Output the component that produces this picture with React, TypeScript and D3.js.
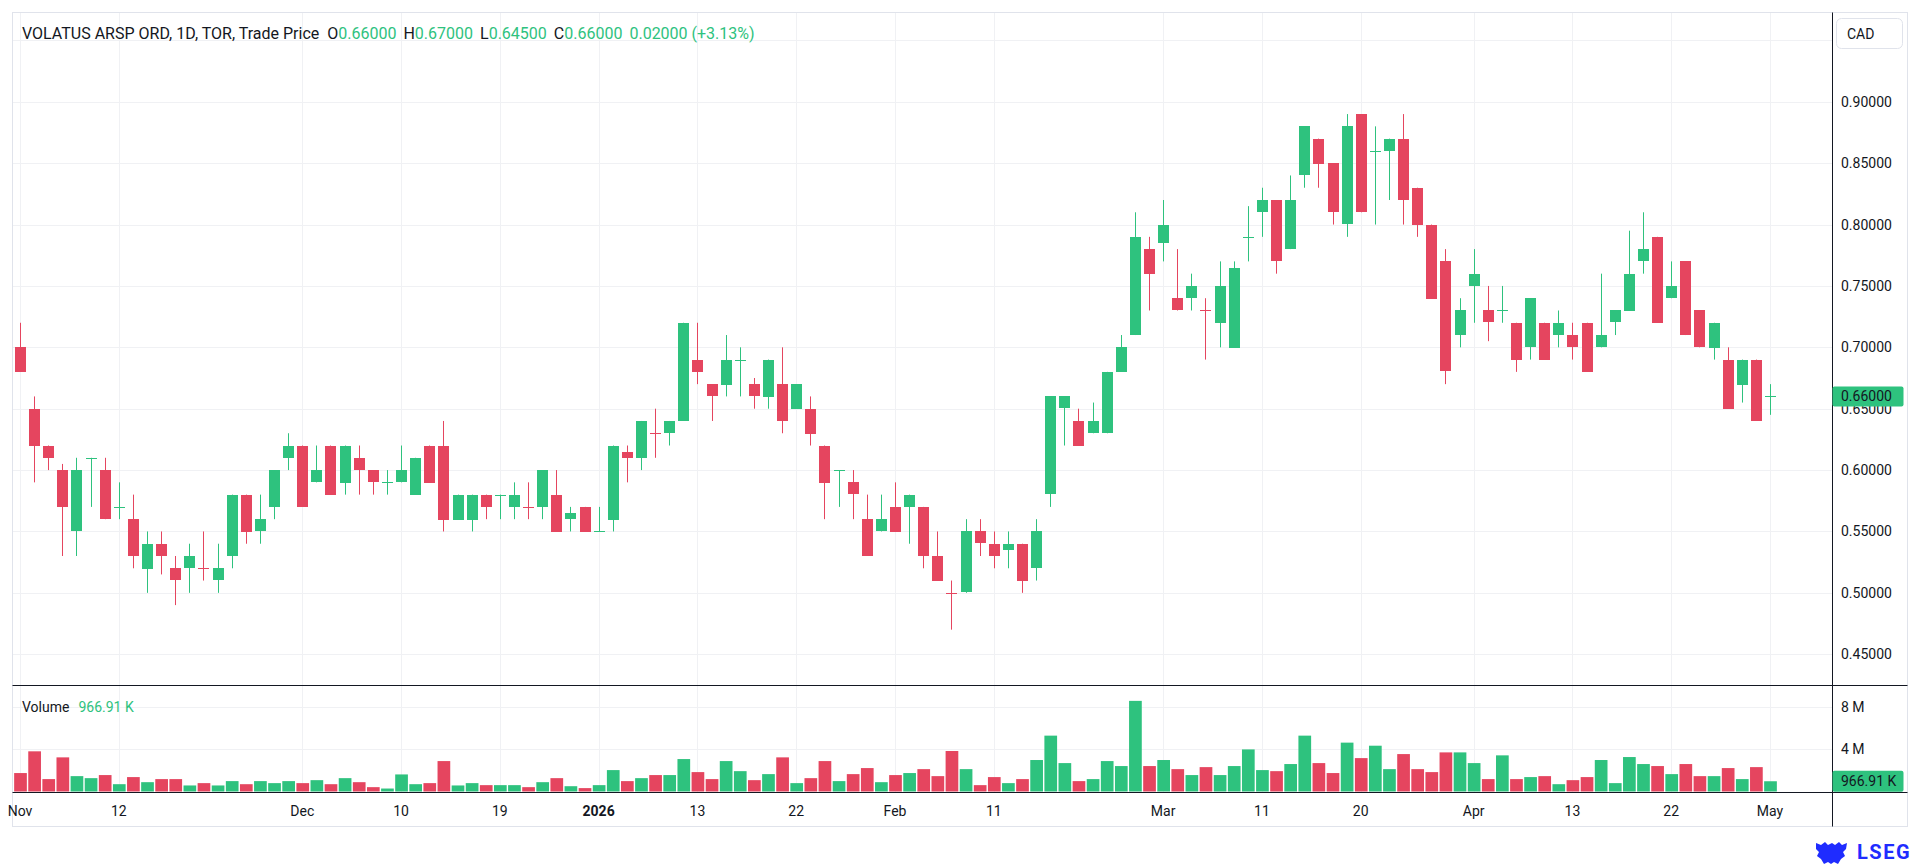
import * as d3 from 'd3'

// trading days, Nov 2025 - May 2026 (TSX calendar)
const NOV_2025 = [3, 4, 5, 6, 7, 10, 11, 12, 13, 14, 17, 18, 19, 20, 21, 24, 25, 26, 27, 28]
const DEC_2025 = [1, 2, 3, 4, 5, 8, 9, 10, 11, 12, 15, 16, 17, 18, 19, 22, 23, 24, 29, 30, 31]
const JAN_2026 = [2, 5, 6, 7, 8, 9, 12, 13, 14, 15, 16, 19, 20, 21, 22, 23, 26, 27, 28, 29, 30]
const FEB_2026 = [2, 3, 4, 5, 6, 9, 10, 11, 12, 13, 17, 18, 19, 20, 23, 24, 25, 26, 27]
const MAR_2026 = [2, 3, 4, 5, 6, 9, 10, 11, 12, 13, 16, 17, 18, 19, 20, 23, 24, 25, 26, 27, 30, 31]
const APR_2026 = [1, 2, 6, 7, 8, 9, 10, 13, 14, 15, 16, 17, 20, 21, 22, 23, 24, 27, 28, 29, 30]
const MAY_2026 = [1]

const pad = (n: number) => String(n).padStart(2, '0')
const month = (ym: string, days: number[]) => days.map(d => `${ym}-${pad(d)}`)

const dates = [
  ...month('2025-11', NOV_2025),
  ...month('2025-12', DEC_2025),
  ...month('2026-01', JAN_2026),
  ...month('2026-02', FEB_2026),
  ...month('2026-03', MAR_2026),
  ...month('2026-04', APR_2026),
  ...month('2026-05', MAY_2026),
]

const open = [
  0.70, 0.65, 0.62, 0.60, 0.55, 0.61, 0.60, 0.57, 0.56, 0.52,
  0.54, 0.52, 0.52, 0.52, 0.51, 0.53, 0.58, 0.55, 0.57, 0.61,
  0.62, 0.59, 0.62, 0.59, 0.61, 0.60, 0.59, 0.59, 0.58, 0.62,
  0.62, 0.56, 0.56, 0.58, 0.58, 0.57, 0.57, 0.57, 0.58, 0.56,
  0.57, 0.55, 0.56, 0.615, 0.61, 0.63, 0.63, 0.64, 0.69, 0.67,
  0.67, 0.69, 0.67, 0.66, 0.67, 0.65, 0.65, 0.62, 0.60, 0.59,
  0.56, 0.55, 0.57, 0.57, 0.57, 0.53, 0.50, 0.50, 0.55, 0.54,
  0.535, 0.54, 0.52, 0.58, 0.65, 0.64, 0.63, 0.63, 0.68, 0.71,
  0.78, 0.785, 0.74, 0.74, 0.73, 0.72, 0.70, 0.79, 0.81, 0.82,
  0.78, 0.84, 0.87, 0.85, 0.80, 0.89, 0.86, 0.86, 0.87, 0.83,
  0.80, 0.77, 0.71, 0.75, 0.73, 0.73, 0.72, 0.70, 0.72, 0.71,
  0.71, 0.72, 0.70, 0.72, 0.73, 0.77, 0.79, 0.74, 0.77, 0.73,
  0.70, 0.69, 0.67, 0.69, 0.66,
]
const high = [
  0.72, 0.66, 0.62, 0.605, 0.61, 0.61, 0.61, 0.59, 0.58, 0.55,
  0.55, 0.53, 0.54, 0.55, 0.54, 0.58, 0.58, 0.58, 0.60, 0.63,
  0.62, 0.62, 0.62, 0.62, 0.62, 0.60, 0.60, 0.62, 0.61, 0.62,
  0.64, 0.58, 0.58, 0.58, 0.58, 0.59, 0.59, 0.60, 0.60, 0.57,
  0.57, 0.57, 0.62, 0.62, 0.64, 0.65, 0.64, 0.72, 0.72, 0.67,
  0.71, 0.70, 0.675, 0.69, 0.70, 0.67, 0.66, 0.62, 0.60, 0.60,
  0.58, 0.58, 0.59, 0.58, 0.57, 0.55, 0.51, 0.56, 0.56, 0.55,
  0.55, 0.54, 0.56, 0.66, 0.66, 0.65, 0.655, 0.68, 0.71, 0.81,
  0.79, 0.82, 0.78, 0.76, 0.74, 0.77, 0.77, 0.815, 0.83, 0.82,
  0.84, 0.88, 0.87, 0.85, 0.89, 0.89, 0.88, 0.87, 0.89, 0.83,
  0.80, 0.78, 0.74, 0.78, 0.75, 0.75, 0.72, 0.74, 0.72, 0.73,
  0.72, 0.72, 0.76, 0.73, 0.795, 0.81, 0.79, 0.77, 0.77, 0.73,
  0.72, 0.70, 0.69, 0.69, 0.67,
]
const low = [
  0.68, 0.59, 0.60, 0.53, 0.53, 0.57, 0.56, 0.56, 0.52, 0.50,
  0.515, 0.49, 0.50, 0.51, 0.50, 0.52, 0.54, 0.54, 0.56, 0.60,
  0.57, 0.59, 0.58, 0.58, 0.58, 0.58, 0.58, 0.59, 0.58, 0.59,
  0.55, 0.56, 0.55, 0.56, 0.56, 0.56, 0.56, 0.56, 0.55, 0.55,
  0.55, 0.55, 0.55, 0.59, 0.60, 0.61, 0.62, 0.64, 0.67, 0.64,
  0.66, 0.66, 0.65, 0.65, 0.63, 0.65, 0.62, 0.56, 0.57, 0.56,
  0.53, 0.55, 0.55, 0.54, 0.52, 0.51, 0.47, 0.50, 0.53, 0.52,
  0.52, 0.50, 0.51, 0.57, 0.62, 0.62, 0.63, 0.63, 0.68, 0.71,
  0.73, 0.77, 0.73, 0.73, 0.69, 0.70, 0.70, 0.77, 0.79, 0.76,
  0.78, 0.83, 0.83, 0.80, 0.79, 0.81, 0.80, 0.82, 0.80, 0.79,
  0.74, 0.67, 0.70, 0.72, 0.705, 0.72, 0.68, 0.69, 0.69, 0.70,
  0.69, 0.68, 0.70, 0.71, 0.73, 0.76, 0.72, 0.74, 0.71, 0.70,
  0.69, 0.65, 0.655, 0.64, 0.645,
]
const close = [
  0.68, 0.62, 0.61, 0.57, 0.60, 0.61, 0.56, 0.57, 0.53, 0.54,
  0.53, 0.51, 0.53, 0.52, 0.52, 0.58, 0.55, 0.56, 0.60, 0.62,
  0.57, 0.60, 0.58, 0.62, 0.60, 0.59, 0.59, 0.60, 0.61, 0.59,
  0.56, 0.58, 0.58, 0.57, 0.58, 0.58, 0.57, 0.60, 0.55, 0.565,
  0.55, 0.55, 0.62, 0.61, 0.64, 0.63, 0.64, 0.72, 0.68, 0.66,
  0.69, 0.69, 0.66, 0.69, 0.64, 0.67, 0.63, 0.59, 0.60, 0.58,
  0.53, 0.56, 0.55, 0.58, 0.53, 0.51, 0.50, 0.55, 0.54, 0.53,
  0.54, 0.51, 0.55, 0.66, 0.66, 0.62, 0.64, 0.68, 0.70, 0.79,
  0.76, 0.80, 0.73, 0.75, 0.73, 0.75, 0.765, 0.79, 0.82, 0.77,
  0.82, 0.88, 0.85, 0.81, 0.88, 0.81, 0.86, 0.87, 0.82, 0.80,
  0.74, 0.68, 0.73, 0.76, 0.72, 0.73, 0.69, 0.74, 0.69, 0.72,
  0.70, 0.68, 0.71, 0.73, 0.76, 0.78, 0.72, 0.75, 0.71, 0.70,
  0.72, 0.65, 0.69, 0.64, 0.66,
]
// millions of shares
const volume = [
  1.74, 3.79, 1.17, 3.22, 1.45, 1.26, 1.55, 0.69, 1.36, 0.88,
  1.17, 1.17, 0.57, 0.79, 0.57, 0.98, 0.69, 0.98, 0.79, 0.98,
  0.79, 1.07, 0.69, 1.26, 0.88, 0.41, 0.28, 1.61, 0.69, 0.79,
  2.87, 0.57, 0.79, 0.60, 0.60, 0.60, 0.41, 0.88, 1.26, 0.50,
  0.32, 0.60, 2.02, 0.98, 1.26, 1.55, 1.55, 3.06, 1.83, 1.17,
  2.87, 1.92, 1.07, 1.64, 3.22, 0.79, 1.26, 2.87, 0.98, 1.64,
  2.21, 0.88, 1.55, 1.74, 2.11, 1.45, 3.82, 2.11, 0.60, 1.36,
  0.79, 1.17, 2.97, 5.27, 2.68, 0.98, 1.17, 2.87, 2.40, 8.55,
  2.40, 2.97, 2.11, 1.55, 2.30, 1.55, 2.40, 3.97, 2.02, 1.92,
  2.59, 5.27, 2.68, 1.74, 4.61, 3.15, 4.32, 2.11, 3.53, 2.11,
  1.83, 3.69, 3.69, 2.68, 1.17, 3.41, 1.17, 1.36, 1.45, 0.69,
  1.07, 1.36, 2.97, 0.79, 3.25, 2.59, 2.40, 1.64, 2.59, 1.45,
  1.45, 2.21, 1.17, 2.30, 0.96691,
]

const tickDates = [
  '2025-11-03', '2025-11-12', '2025-12-01', '2025-12-10', '2025-12-19', '2026-01-02',
  '2026-01-13', '2026-01-22', '2026-02-02', '2026-02-11', '2026-03-02', '2026-03-11',
  '2026-03-20', '2026-04-01', '2026-04-13', '2026-04-22', '2026-05-01',
]
const tickLabels = ['Nov', '12', 'Dec', '10', '19', '2026', '13', '22', 'Feb', '11', 'Mar', '11', '20', 'Apr', '13', '22', 'May']
const priceTicks = [0.45, 0.5, 0.55, 0.6, 0.65, 0.7, 0.75, 0.8, 0.85, 0.9]
const priceGrid = [...priceTicks, 0.95]
const volumeTicks = [4, 8]
const volumeTickLabels = ['4 M', '8 M']

const W = 1920
const H = 865
const LEFT = 12.5
const AXIS_X = 1832.5
const RIGHT = 1907.5
const TOP = 12.5
const PANE_SEP = 685.5
const TIME_AXIS = 792.5
const BOTTOM = 826.5

const UP = '#2ec27e'
const DOWN = '#e5455f'
const GRID = '#f0f1f4'
const BORDER = '#e0e3eb'
const INK = '#131722'
const FONT = 'Roboto, "Noto Sans", sans-serif'

const x = d3.scalePoint<string>().domain(dates).range([20, 1770])
const y = d3.scaleLinear().domain([0.45, 0.9]).range([654.2, 101.8])
const yVol = d3.scaleLinear().domain([0, 8]).range([791.5, 706.7])

const step = x.step()
const bodyW = Math.round(step * 0.76)
const volW = step * 0.9

const isUp = (i: number) => {
  if (close[i] > open[i]) return true
  if (close[i] < open[i]) return false
  return i === 0 || close[i] >= close[i - 1]
}

const fmt = d3.format('.5f')

export default function App() {
  const last = dates.length - 1
  const lastUp = isUp(last)
  const lastColor = lastUp ? UP : DOWN
  const change = close[last] - close[last - 1]
  const pct = (change / close[last - 1]) * 100

  return (
    <svg
      width={W}
      height={H}
      style={{ position: 'absolute', left: 0, top: 0, background: '#fff' }}
      fontFamily={FONT}
    >
      <defs>
        <clipPath id="price-clip">
          <rect x={LEFT} y={TOP} width={AXIS_X - LEFT} height={PANE_SEP - TOP} />
        </clipPath>
        <clipPath id="vol-clip">
          <rect x={LEFT} y={PANE_SEP} width={AXIS_X - LEFT} height={TIME_AXIS - PANE_SEP} />
        </clipPath>
      </defs>

      {/* grid */}
      <g stroke={GRID} strokeWidth={1}>
        {tickDates.map(d => {
          const gx = Math.round(x(d)!) + 0.5
          return <line key={d} x1={gx} x2={gx} y1={TOP} y2={TIME_AXIS} />
        })}
        {priceGrid.map(p => {
          const gy = Math.round(y(p)) + 0.5
          return <line key={p} x1={LEFT} x2={AXIS_X} y1={gy} y2={gy} />
        })}
        {volumeTicks.map(v => {
          const gy = Math.round(yVol(v)) + 0.5
          return <line key={v} x1={LEFT} x2={AXIS_X} y1={gy} y2={gy} />
        })}
      </g>

      {/* candles */}
      <g clipPath="url(#price-clip)">
        {dates.map((d, i) => {
          const cx = Math.round(x(d)!)
          const color = isUp(i) ? UP : DOWN
          const yTop = y(Math.max(open[i], close[i]))
          const yBot = y(Math.min(open[i], close[i]))
          const h = Math.max(1, Math.round(yBot - yTop))
          return (
            <g key={d}>
              <rect x={cx} y={y(high[i])} width={1} height={y(low[i]) - y(high[i])} fill={color} />
              <rect x={cx - (bodyW - 1) / 2} y={Math.round(yTop)} width={bodyW} height={h} fill={color} />
            </g>
          )
        })}
      </g>

      {/* volume */}
      <g clipPath="url(#vol-clip)">
        {dates.map((d, i) => (
          <rect
            key={d}
            x={x(d)! - volW / 2 + 0.5}
            y={yVol(volume[i])}
            width={volW}
            height={yVol(0) - yVol(volume[i])}
            fill={isUp(i) ? UP : DOWN}
          />
        ))}
      </g>

      {/* frame */}
      <rect x={LEFT} y={TOP} width={RIGHT - LEFT} height={BOTTOM - TOP} fill="none" stroke={BORDER} />
      <g stroke={INK} strokeWidth={1}>
        <line x1={AXIS_X} x2={AXIS_X} y1={TOP} y2={BOTTOM} />
        <line x1={LEFT} x2={RIGHT} y1={PANE_SEP} y2={PANE_SEP} />
        <line x1={LEFT} x2={RIGHT} y1={TIME_AXIS} y2={TIME_AXIS} />
      </g>

      {/* header */}
      <text x={22} y={33} fontSize={16} fill={INK} dominantBaseline="central">
        <tspan>VOLATUS ARSP ORD, 1D, TOR, Trade Price</tspan>
        <tspan dx={8}>O</tspan>
        <tspan fill={lastColor}>{fmt(open[last])}</tspan>
        <tspan dx={7}>H</tspan>
        <tspan fill={lastColor}>{fmt(high[last])}</tspan>
        <tspan dx={7}>L</tspan>
        <tspan fill={lastColor}>{fmt(low[last])}</tspan>
        <tspan dx={7}>C</tspan>
        <tspan fill={lastColor}>{fmt(close[last])}</tspan>
        <tspan dx={7} fill={lastColor}>
          {`${fmt(change)} (${change >= 0 ? '+' : ''}${pct.toFixed(2)}%)`}
        </tspan>
      </text>

      <text x={22} y={707} fontSize={14} fill={INK} dominantBaseline="central">
        <tspan>Volume</tspan>
        <tspan dx={9} fill={lastColor}>966.91 K</tspan>
      </text>

      {/* currency box */}
      <rect x={1836.5} y={18.5} width={66} height={30} rx={5} fill="#fff" stroke={BORDER} />
      <text x={1847} y={34} fontSize={14} fill={INK} dominantBaseline="central">CAD</text>

      {/* price axis */}
      <g fontSize={14} fill={INK}>
        {priceTicks.map(p => (
          <text key={p} x={1841} y={y(p)} dominantBaseline="central">{fmt(p)}</text>
        ))}
        {volumeTicks.map((v, i) => (
          <text key={v} x={1841} y={yVol(v)} dominantBaseline="central">{volumeTickLabels[i]}</text>
        ))}
      </g>

      {/* last value labels */}
      <rect x={AXIS_X} y={y(close[last]) - 10} width={71} height={20} rx={2} fill={lastColor} />
      <text x={1841} y={y(close[last])} fontSize={14} fill={INK} dominantBaseline="central">
        {fmt(close[last])}
      </text>
      <rect x={AXIS_X} y={yVol(volume[last]) - 10.5} width={71} height={21} rx={2} fill={lastColor} />
      <text x={1841} y={yVol(volume[last])} fontSize={14} fill={INK} dominantBaseline="central">
        966.91 K
      </text>

      {/* time axis */}
      <g fontSize={14} fill={INK} textAnchor="middle">
        {tickDates.map((d, i) => (
          <text
            key={d}
            x={x(d)!}
            y={811}
            dominantBaseline="central"
            fontWeight={tickLabels[i] === '2026' ? 'bold' : 'normal'}
          >
            {tickLabels[i]}
          </text>
        ))}
      </g>

      {/* logo */}
      <g fill="#1f2cff">
        <path d="M1816,843 l5,2 l4,-3 l3,3 l4,-2 l3,2 l4,-3 l3,3 l5,-2 l-1,6 l-3,3 l2,4 l-4,3 l-3,5 l-4,-2 l-3,2 l-3,-2 l-4,2 l-3,-5 l-4,-3 l2,-4 l-3,-3 z" />
        <text x={1857} y={852} fontSize={20} fontWeight="bold" letterSpacing={1.5} dominantBaseline="central">
          LSEG
        </text>
      </g>
    </svg>
  )
}
